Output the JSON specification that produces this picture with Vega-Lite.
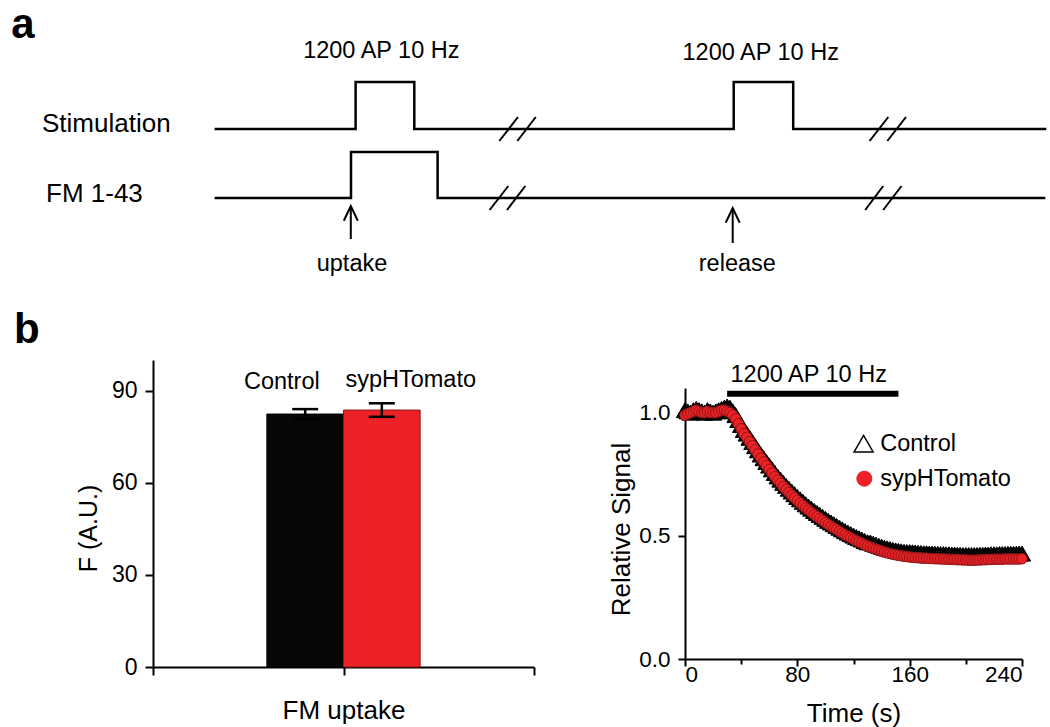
{
  "$schema": "https://vega.github.io/schema/vega-lite/v6.json",
  "background": "white",
  "padding": {"left": 11, "top": 3, "right": 0, "bottom": 0},
  "spacing": 18,
  "config": {
    "font": "Liberation Sans",
    "view": {"stroke": null},
    "axis": {"domainColor": "black", "domainWidth": 2, "tickColor": "black", "tickWidth": 2, "labelColor": "black", "titleColor": "black", "labelFont": "Liberation Sans", "titleFont": "Liberation Sans", "titleFontWeight": "normal", "grid": false, "labelFontSize": 23, "titleFontSize": 26},
    "text": {"color": "black", "font": "Liberation Sans"},
    "title": {"color": "black", "font": "Liberation Sans"}
  },
  "datasets": {
    "traces": [
      {"trace": "Stimulation", "i": 0, "u": 20.33, "v": 6.9},
      {"trace": "Stimulation", "i": 1, "u": 34.43, "v": 6.9},
      {"trace": "Stimulation", "i": 2, "u": 34.43, "v": 11.6},
      {"trace": "Stimulation", "i": 3, "u": 40.3, "v": 11.6},
      {"trace": "Stimulation", "i": 4, "u": 40.3, "v": 6.9},
      {"trace": "Stimulation", "i": 5, "u": 72.24, "v": 6.9},
      {"trace": "Stimulation", "i": 6, "u": 72.24, "v": 11.6},
      {"trace": "Stimulation", "i": 7, "u": 78.19, "v": 11.6},
      {"trace": "Stimulation", "i": 8, "u": 78.19, "v": 6.9},
      {"trace": "Stimulation", "i": 9, "u": 103.5, "v": 6.9},
      {"trace": "FM 1-43", "i": 0, "u": 20.33, "v": 0},
      {"trace": "FM 1-43", "i": 1, "u": 33.97, "v": 0},
      {"trace": "FM 1-43", "i": 2, "u": 33.97, "v": 4.6},
      {"trace": "FM 1-43", "i": 3, "u": 42.63, "v": 4.6},
      {"trace": "FM 1-43", "i": 4, "u": 42.63, "v": 0},
      {"trace": "FM 1-43", "i": 5, "u": 103.4, "v": 0}
    ],
    "breaks": [
      {"u1": 48.8, "v1": 5.7, "u2": 50.67, "v2": 8.1},
      {"u1": 50.6, "v1": 5.7, "u2": 52.45, "v2": 8.1},
      {"u1": 85.83, "v1": 5.7, "u2": 87.7, "v2": 8.1},
      {"u1": 87.6, "v1": 5.7, "u2": 89.47, "v2": 8.1},
      {"u1": 47.83, "v1": -1.2, "u2": 49.7, "v2": 1.2},
      {"u1": 49.57, "v1": -1.2, "u2": 51.4, "v2": 1.2},
      {"u1": 85.39, "v1": -1.2, "u2": 87.19, "v2": 1.2},
      {"u1": 87.19, "v1": -1.2, "u2": 89.02, "v2": 1.2}
    ],
    "arrows": [
      {"label": "uptake", "u": 33.95, "tail": -4.1, "tip": -0.8},
      {"label": "release", "u": 72.14, "tail": -4.5, "tip": -1.0}
    ],
    "names": [
      {"text": "Stimulation", "u": 3.07, "v": 6.63},
      {"text": "FM 1-43", "u": 3.47, "v": -0.4}
    ],
    "notes": [
      {"text": "1200 AP 10 Hz", "u": 37.0, "v": 13.97},
      {"text": "1200 AP 10 Hz", "u": 74.94, "v": 13.8},
      {"text": "uptake", "u": 34.07, "v": -7.3},
      {"text": "release", "u": 72.6, "v": -7.3}
    ],
    "panelLabel": [
      {"text": "a", "u": 0.0, "v": 16.03}
    ],
    "uptake": [
      {"assay": "FM uptake", "group": "Control", "F": 82.4, "lo": 80.8, "hi": 84.0},
      {"assay": "FM uptake", "group": "sypHTomato", "F": 83.7, "lo": 81.5, "hi": 85.9}
    ],
    "stim": [
      {"start": 30, "end": 152, "level": 1.077, "label": "1200 AP 10 Hz"}
    ],
    "decay": [
      {"t": 0, "Control": 1.010, "sypHTomato": 0.990},
      {"t": 2, "Control": 1.005, "sypHTomato": 0.995},
      {"t": 4, "Control": 1.000, "sypHTomato": 1.000},
      {"t": 6, "Control": 1.010, "sypHTomato": 1.005},
      {"t": 8, "Control": 1.015, "sypHTomato": 1.010},
      {"t": 10, "Control": 1.010, "sypHTomato": 1.005},
      {"t": 12, "Control": 1.005, "sypHTomato": 1.000},
      {"t": 14, "Control": 1.000, "sypHTomato": 1.000},
      {"t": 16, "Control": 1.010, "sypHTomato": 1.005},
      {"t": 18, "Control": 1.005, "sypHTomato": 1.000},
      {"t": 20, "Control": 1.000, "sypHTomato": 1.000},
      {"t": 22, "Control": 1.005, "sypHTomato": 1.000},
      {"t": 24, "Control": 1.010, "sypHTomato": 1.005},
      {"t": 26, "Control": 1.015, "sypHTomato": 1.010},
      {"t": 28, "Control": 1.020, "sypHTomato": 1.010},
      {"t": 30, "Control": 1.025, "sypHTomato": 1.005},
      {"t": 32, "Control": 1.020, "sypHTomato": 1.000},
      {"t": 34, "Control": 1.005, "sypHTomato": 0.990},
      {"t": 36, "Control": 0.990, "sypHTomato": 0.975},
      {"t": 38, "Control": 0.970, "sypHTomato": 0.955},
      {"t": 40, "Control": 0.950, "sypHTomato": 0.935},
      {"t": 42, "Control": 0.930, "sypHTomato": 0.915},
      {"t": 44, "Control": 0.915, "sypHTomato": 0.900},
      {"t": 46, "Control": 0.898, "sypHTomato": 0.883},
      {"t": 48, "Control": 0.881, "sypHTomato": 0.866},
      {"t": 50, "Control": 0.864, "sypHTomato": 0.849},
      {"t": 52, "Control": 0.847, "sypHTomato": 0.832},
      {"t": 54, "Control": 0.830, "sypHTomato": 0.815},
      {"t": 56, "Control": 0.815, "sypHTomato": 0.800},
      {"t": 58, "Control": 0.800, "sypHTomato": 0.785},
      {"t": 60, "Control": 0.785, "sypHTomato": 0.770},
      {"t": 62, "Control": 0.770, "sypHTomato": 0.755},
      {"t": 64, "Control": 0.755, "sypHTomato": 0.740},
      {"t": 66, "Control": 0.741, "sypHTomato": 0.726},
      {"t": 68, "Control": 0.728, "sypHTomato": 0.713},
      {"t": 70, "Control": 0.715, "sypHTomato": 0.700},
      {"t": 72, "Control": 0.703, "sypHTomato": 0.688},
      {"t": 74, "Control": 0.691, "sypHTomato": 0.676},
      {"t": 76, "Control": 0.680, "sypHTomato": 0.665},
      {"t": 78, "Control": 0.669, "sypHTomato": 0.654},
      {"t": 80, "Control": 0.658, "sypHTomato": 0.643},
      {"t": 82, "Control": 0.648, "sypHTomato": 0.633},
      {"t": 84, "Control": 0.638, "sypHTomato": 0.623},
      {"t": 86, "Control": 0.628, "sypHTomato": 0.613},
      {"t": 88, "Control": 0.619, "sypHTomato": 0.604},
      {"t": 90, "Control": 0.610, "sypHTomato": 0.595},
      {"t": 92, "Control": 0.601, "sypHTomato": 0.586},
      {"t": 94, "Control": 0.593, "sypHTomato": 0.578},
      {"t": 96, "Control": 0.585, "sypHTomato": 0.570},
      {"t": 98, "Control": 0.577, "sypHTomato": 0.562},
      {"t": 100, "Control": 0.569, "sypHTomato": 0.554},
      {"t": 102, "Control": 0.561, "sypHTomato": 0.546},
      {"t": 104, "Control": 0.554, "sypHTomato": 0.539},
      {"t": 106, "Control": 0.547, "sypHTomato": 0.532},
      {"t": 108, "Control": 0.540, "sypHTomato": 0.525},
      {"t": 110, "Control": 0.533, "sypHTomato": 0.518},
      {"t": 112, "Control": 0.526, "sypHTomato": 0.511},
      {"t": 114, "Control": 0.519, "sypHTomato": 0.504},
      {"t": 116, "Control": 0.513, "sypHTomato": 0.498},
      {"t": 118, "Control": 0.507, "sypHTomato": 0.492},
      {"t": 120, "Control": 0.501, "sypHTomato": 0.486},
      {"t": 122, "Control": 0.495, "sypHTomato": 0.480},
      {"t": 124, "Control": 0.490, "sypHTomato": 0.475},
      {"t": 126, "Control": 0.485, "sypHTomato": 0.470},
      {"t": 128, "Control": 0.479, "sypHTomato": 0.464},
      {"t": 130, "Control": 0.474, "sypHTomato": 0.459},
      {"t": 132, "Control": 0.473, "sypHTomato": 0.455},
      {"t": 134, "Control": 0.468, "sypHTomato": 0.450},
      {"t": 136, "Control": 0.464, "sypHTomato": 0.446},
      {"t": 138, "Control": 0.460, "sypHTomato": 0.442},
      {"t": 140, "Control": 0.456, "sypHTomato": 0.438},
      {"t": 142, "Control": 0.452, "sypHTomato": 0.434},
      {"t": 144, "Control": 0.449, "sypHTomato": 0.431},
      {"t": 146, "Control": 0.446, "sypHTomato": 0.428},
      {"t": 148, "Control": 0.443, "sypHTomato": 0.425},
      {"t": 150, "Control": 0.441, "sypHTomato": 0.423},
      {"t": 152, "Control": 0.439, "sypHTomato": 0.421},
      {"t": 154, "Control": 0.437, "sypHTomato": 0.419},
      {"t": 156, "Control": 0.435, "sypHTomato": 0.417},
      {"t": 158, "Control": 0.434, "sypHTomato": 0.416},
      {"t": 160, "Control": 0.434, "sypHTomato": 0.414},
      {"t": 162, "Control": 0.433, "sypHTomato": 0.413},
      {"t": 164, "Control": 0.432, "sypHTomato": 0.412},
      {"t": 166, "Control": 0.431, "sypHTomato": 0.411},
      {"t": 168, "Control": 0.430, "sypHTomato": 0.410},
      {"t": 170, "Control": 0.429, "sypHTomato": 0.409},
      {"t": 172, "Control": 0.429, "sypHTomato": 0.409},
      {"t": 174, "Control": 0.428, "sypHTomato": 0.408},
      {"t": 176, "Control": 0.428, "sypHTomato": 0.408},
      {"t": 178, "Control": 0.427, "sypHTomato": 0.407},
      {"t": 180, "Control": 0.427, "sypHTomato": 0.407},
      {"t": 182, "Control": 0.426, "sypHTomato": 0.406},
      {"t": 184, "Control": 0.426, "sypHTomato": 0.406},
      {"t": 186, "Control": 0.425, "sypHTomato": 0.405},
      {"t": 188, "Control": 0.425, "sypHTomato": 0.405},
      {"t": 190, "Control": 0.424, "sypHTomato": 0.404},
      {"t": 192, "Control": 0.424, "sypHTomato": 0.404},
      {"t": 194, "Control": 0.423, "sypHTomato": 0.403},
      {"t": 196, "Control": 0.423, "sypHTomato": 0.403},
      {"t": 198, "Control": 0.422, "sypHTomato": 0.402},
      {"t": 200, "Control": 0.422, "sypHTomato": 0.402},
      {"t": 202, "Control": 0.422, "sypHTomato": 0.401},
      {"t": 204, "Control": 0.422, "sypHTomato": 0.401},
      {"t": 206, "Control": 0.422, "sypHTomato": 0.401},
      {"t": 208, "Control": 0.422, "sypHTomato": 0.402},
      {"t": 210, "Control": 0.423, "sypHTomato": 0.402},
      {"t": 212, "Control": 0.423, "sypHTomato": 0.403},
      {"t": 214, "Control": 0.424, "sypHTomato": 0.403},
      {"t": 216, "Control": 0.424, "sypHTomato": 0.404},
      {"t": 218, "Control": 0.425, "sypHTomato": 0.404},
      {"t": 220, "Control": 0.425, "sypHTomato": 0.405},
      {"t": 222, "Control": 0.425, "sypHTomato": 0.405},
      {"t": 224, "Control": 0.426, "sypHTomato": 0.405},
      {"t": 226, "Control": 0.426, "sypHTomato": 0.405},
      {"t": 228, "Control": 0.426, "sypHTomato": 0.406},
      {"t": 230, "Control": 0.427, "sypHTomato": 0.406},
      {"t": 232, "Control": 0.427, "sypHTomato": 0.406},
      {"t": 234, "Control": 0.427, "sypHTomato": 0.406},
      {"t": 236, "Control": 0.427, "sypHTomato": 0.406},
      {"t": 238, "Control": 0.428, "sypHTomato": 0.406},
      {"t": 240, "Control": 0.428, "sypHTomato": 0.407}
    ]
  },
  "vconcat": [
    {
      "width": 893,
      "height": 285,
      "layer": [
        {
          "data": {"name": "traces"},
          "mark": {"type": "line", "strokeWidth": 2.5, "color": "black", "strokeJoin": "miter"},
          "encoding": {
            "x": {"field": "u", "type": "quantitative", "scale": {"domain": [14.17, 103.47], "nice": false, "zero": false}, "axis": null},
            "y": {"field": "v", "type": "quantitative", "scale": {"domain": [-9.3, 19.2], "nice": false, "zero": false}, "axis": null},
            "detail": {"field": "trace", "type": "nominal"},
            "order": {"field": "i", "type": "quantitative"}
          }
        },
        {
          "data": {"name": "breaks"},
          "mark": {"type": "rule", "strokeWidth": 2, "color": "black"},
          "encoding": {
            "x": {"field": "u1", "type": "quantitative", "axis": null},
            "y": {"field": "v1", "type": "quantitative", "axis": null},
            "x2": {"field": "u2"},
            "y2": {"field": "v2"}
          }
        },
        {
          "data": {"name": "arrows"},
          "mark": {"type": "rule", "strokeWidth": 2, "color": "black"},
          "encoding": {
            "x": {"field": "u", "type": "quantitative", "axis": null},
            "y": {"field": "tail", "type": "quantitative", "axis": null},
            "y2": {"field": "tip"}
          }
        },
        {
          "data": {"name": "arrows"},
          "mark": {"type": "point", "shape": "M-1,2.1L0,0L1,2.1", "size": 196, "filled": false, "stroke": "black", "strokeWidth": 2, "opacity": 1},
          "encoding": {
            "x": {"field": "u", "type": "quantitative", "axis": null},
            "y": {"field": "tip", "type": "quantitative", "axis": null}
          }
        },
        {
          "data": {"name": "names"},
          "mark": {"type": "text", "align": "left", "baseline": "alphabetic", "fontSize": 26},
          "encoding": {
            "x": {"field": "u", "type": "quantitative", "axis": null},
            "y": {"field": "v", "type": "quantitative", "axis": null},
            "text": {"field": "text"}
          }
        },
        {
          "data": {"name": "notes"},
          "mark": {"type": "text", "align": "center", "baseline": "alphabetic", "fontSize": 23.5},
          "encoding": {
            "x": {"field": "u", "type": "quantitative", "axis": null},
            "y": {"field": "v", "type": "quantitative", "axis": null},
            "text": {"field": "text"}
          }
        },
        {
          "data": {"name": "panelLabel"},
          "mark": {"type": "text", "align": "left", "baseline": "alphabetic", "fontSize": 42, "fontWeight": "bold"},
          "encoding": {
            "x": {"field": "u", "type": "quantitative", "axis": null},
            "y": {"field": "v", "type": "quantitative", "axis": null},
            "text": {"field": "text"}
          }
        }
      ]
    },
    {
      "title": {"text": "b", "anchor": "start", "fontSize": 42, "fontWeight": "bold", "dx": -62.5, "offset": 8},
      "spacing": 73,
      "hconcat": [
        {
          "width": 381,
          "height": 307,
          "data": {"name": "uptake"},
          "resolve": {"scale": {"x": "independent"}},
          "layer": [
            {
              "layer": [
                {
                  "mark": {"type": "bar", "strokeWidth": 1},
                  "encoding": {
                    "x": {"field": "assay", "type": "nominal", "scale": {"paddingInner": 0, "paddingOuter": 0.743}, "axis": null},
                    "xOffset": {"field": "group", "type": "nominal", "scale": {"paddingInner": 0, "paddingOuter": 0}},
                    "y": {"field": "F", "type": "quantitative", "scale": {"domain": [0, 100], "nice": false}, "axis": {"values": [0, 30, 60, 90], "tickSize": 8, "labelPadding": 8, "title": "F (A.U.)", "titleFontSize": 25, "titlePadding": 10, "titleY": 168}},
                    "fill": {"field": "group", "type": "nominal", "scale": {"domain": ["Control", "sypHTomato"], "range": ["#060606", "#EC2227"]}, "legend": null},
                    "stroke": {"field": "group", "type": "nominal", "scale": {"domain": ["Control", "sypHTomato"], "range": ["#000000", "#8E1517"]}, "legend": null}
                  }
                },
                {
                  "mark": {"type": "rule", "strokeWidth": 2.5, "color": "black"},
                  "encoding": {
                    "x": {"field": "assay", "type": "nominal"},
                    "xOffset": {"field": "group", "type": "nominal"},
                    "y": {"field": "lo", "type": "quantitative"},
                    "y2": {"field": "hi"}
                  }
                },
                {
                  "mark": {"type": "tick", "thickness": 2.5, "size": 26, "color": "black", "opacity": 1},
                  "encoding": {
                    "x": {"field": "assay", "type": "nominal"},
                    "xOffset": {"field": "group", "type": "nominal"},
                    "y": {"field": "hi", "type": "quantitative"}
                  }
                },
                {
                  "mark": {"type": "tick", "thickness": 2.5, "size": 26, "color": "black", "opacity": 1},
                  "encoding": {
                    "x": {"field": "assay", "type": "nominal"},
                    "xOffset": {"field": "group", "type": "nominal"},
                    "y": {"field": "lo", "type": "quantitative"}
                  }
                },
                {
                  "transform": [{"filter": "datum.group === 'Control'"}],
                  "mark": {"type": "text", "align": "right", "baseline": "alphabetic", "dx": 14.5, "dy": -20.4, "fontSize": 23.5},
                  "encoding": {
                    "x": {"field": "assay", "type": "nominal"},
                    "xOffset": {"field": "group", "type": "nominal"},
                    "y": {"field": "hi", "type": "quantitative"},
                    "text": {"field": "group"}
                  }
                },
                {
                  "transform": [{"filter": "datum.group === 'sypHTomato'"}],
                  "mark": {"type": "text", "align": "left", "baseline": "alphabetic", "dx": -36.4, "dy": -16.6, "fontSize": 23.5},
                  "encoding": {
                    "x": {"field": "assay", "type": "nominal"},
                    "xOffset": {"field": "group", "type": "nominal"},
                    "y": {"field": "hi", "type": "quantitative"},
                    "text": {"field": "group"}
                  }
                }
              ]
            },
            {
              "mark": {"type": "point", "opacity": 0},
              "encoding": {
                "x": {"datum": 0.5, "type": "quantitative", "scale": {"domain": [0, 1], "nice": false, "zero": false}, "axis": {"orient": "bottom", "values": [0, 0.5, 1], "labels": false, "tickSize": 8, "title": "FM uptake", "titleFontSize": 26, "titlePadding": 21}}
              }
            }
          ]
        },
        {
          "width": 337,
          "height": 299,
          "layer": [
            {
              "data": {"name": "decay"},
              "transform": [{"fold": ["Control", "sypHTomato"], "as": ["series", "signal"]}],
              "mark": {"type": "point", "filled": true, "strokeWidth": 1, "opacity": 1},
              "encoding": {
                "x": {"field": "t", "type": "quantitative", "scale": {"domain": [0, 240], "nice": false, "zero": false}, "axis": {"values": [0, 40, 80, 120, 160, 200, 240], "labelExpr": "datum.value % 80 === 0 ? datum.label : ''", "tickSize": {"condition": {"test": "datum.value % 80 === 0", "value": 7}, "value": 5}, "labelPadding": -3, "labelFontSize": 22.5, "title": "Time (s)", "titleFontSize": 26, "titlePadding": 15}},
                "y": {"field": "signal", "type": "quantitative", "scale": {"domain": [0, 1.1], "nice": false, "range": [299, 28]}, "axis": {"values": [0, 0.5, 1], "format": ".1f", "tickSize": 7, "labelPadding": 8, "labelFontSize": 22.5, "title": "Relative Signal", "titleFontSize": 26, "titlePadding": 4, "titleY": 169}},
                "shape": {"field": "series", "type": "nominal", "scale": {"domain": ["Control", "sypHTomato"], "range": ["triangle-up", "circle"]}, "legend": null},
                "fill": {"field": "series", "type": "nominal", "scale": {"domain": ["Control", "sypHTomato"], "range": ["white", "#EC2227"]}, "legend": null},
                "stroke": {"field": "series", "type": "nominal", "scale": {"domain": ["Control", "sypHTomato"], "range": ["black", "#EC2227"]}, "legend": null},
                "size": {"field": "series", "type": "nominal", "scale": {"domain": ["Control", "sypHTomato"], "range": [300, 110]}, "legend": null},
                "order": {"field": "series", "type": "nominal", "sort": "ascending"}
              }
            },
            {
              "data": {"name": "stim"},
              "mark": {"type": "rule", "strokeWidth": 6, "color": "black", "strokeCap": "butt"},
              "encoding": {
                "x": {"field": "start", "type": "quantitative"},
                "x2": {"field": "end"},
                "y": {"field": "level", "type": "quantitative"}
              }
            },
            {
              "data": {"name": "stim"},
              "mark": {"type": "text", "align": "left", "baseline": "alphabetic", "dx": 3.4, "dy": -12, "fontSize": 23.5},
              "encoding": {
                "x": {"field": "start", "type": "quantitative"},
                "y": {"field": "level", "type": "quantitative"},
                "text": {"field": "label"}
              }
            },
            {
              "data": {"values": [{"series": "Control"}]},
              "mark": {"type": "point", "shape": "triangle-up", "size": 361, "filled": true, "fill": "white", "stroke": "black", "strokeWidth": 1.5, "opacity": 1},
              "encoding": {
                "x": {"datum": 127.2, "type": "quantitative"},
                "y": {"datum": 0.874, "type": "quantitative"}
              }
            },
            {
              "data": {"values": [{"series": "Control"}]},
              "mark": {"type": "text", "align": "left", "baseline": "middle", "fontSize": 23.5},
              "encoding": {
                "x": {"datum": 139, "type": "quantitative"},
                "y": {"datum": 0.874, "type": "quantitative"},
                "text": {"field": "series"}
              }
            },
            {
              "data": {"values": [{"series": "sypHTomato"}]},
              "mark": {"type": "point", "shape": "circle", "size": 225, "filled": true, "fill": "#EC2227", "stroke": "#EC2227", "strokeWidth": 1, "opacity": 1},
              "encoding": {
                "x": {"datum": 127.7, "type": "quantitative"},
                "y": {"datum": 0.732, "type": "quantitative"}
              }
            },
            {
              "data": {"values": [{"series": "sypHTomato"}]},
              "mark": {"type": "text", "align": "left", "baseline": "middle", "fontSize": 23.5},
              "encoding": {
                "x": {"datum": 139, "type": "quantitative"},
                "y": {"datum": 0.732, "type": "quantitative"},
                "text": {"field": "series"}
              }
            }
          ]
        }
      ]
    }
  ]
}
